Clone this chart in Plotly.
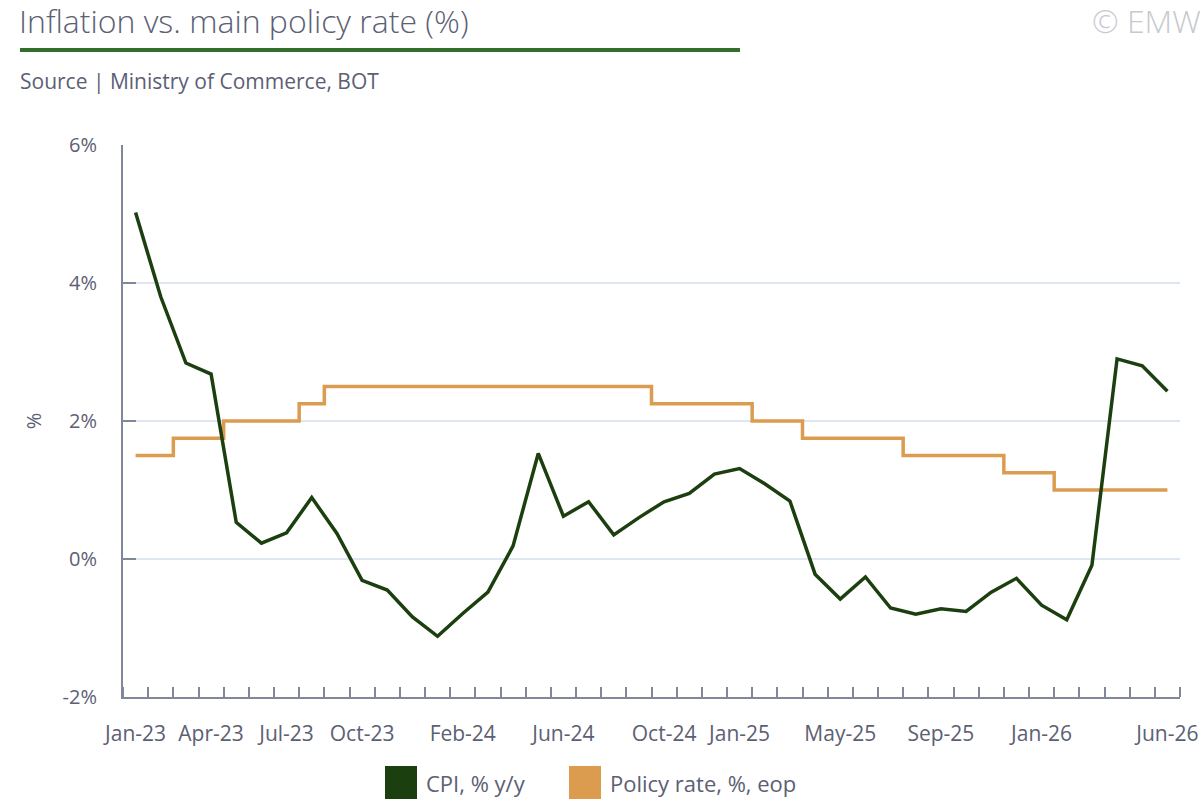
import plotly.graph_objects as go

# data
months = [
    "Jan-23", "Feb-23", "Mar-23", "Apr-23", "May-23", "Jun-23", "Jul-23", "Aug-23", "Sep-23", "Oct-23", "Nov-23", "Dec-23",
    "Jan-24", "Feb-24", "Mar-24", "Apr-24", "May-24", "Jun-24", "Jul-24", "Aug-24", "Sep-24", "Oct-24", "Nov-24", "Dec-24",
    "Jan-25", "Feb-25", "Mar-25", "Apr-25", "May-25", "Jun-25", "Jul-25", "Aug-25", "Sep-25", "Oct-25", "Nov-25", "Dec-25",
    "Jan-26", "Feb-26", "Mar-26", "Apr-26", "May-26", "Jun-26",
]
cpi = [
    5.02, 3.80, 2.84, 2.68, 0.53, 0.23, 0.38, 0.89, 0.37, -0.31, -0.45, -0.84,
    -1.12, -0.79, -0.48, 0.19, 1.53, 0.62, 0.83, 0.35, 0.60, 0.83, 0.95, 1.23,
    1.31, 1.09, 0.84, -0.22, -0.58, -0.26, -0.71, -0.80, -0.72, -0.76, -0.48, -0.28,
    -0.67, -0.88, -0.09, 2.90, 2.80, 2.43,
]
policy = [
    1.50, 1.50, 1.75, 1.75, 2.00, 2.00, 2.00, 2.25, 2.50, 2.50, 2.50, 2.50,
    2.50, 2.50, 2.50, 2.50, 2.50, 2.50, 2.50, 2.50, 2.50, 2.25, 2.25, 2.25,
    2.25, 2.00, 2.00, 1.75, 1.75, 1.75, 1.75, 1.50, 1.50, 1.50, 1.50, 1.25,
    1.25, 1.00, 1.00, 1.00, 1.00, 1.00,
]
tick_labels = ["Jan-23", "Apr-23", "Jul-23", "Oct-23", "Feb-24", "Jun-24",
               "Oct-24", "Jan-25", "May-25", "Sep-25", "Jan-26", "Jun-26"]
y_ticks = [-2, 0, 2, 4, 6]

names = ["CPI, % y/y", "Policy rate, %, eop"]
colors = ["#1c3f10", "#dc9c50"]

FONT = "Open Sans"
TEXT = "#5c6073"
AXIS = "#7f8799"
GRID = "#dde6f1"

W, H = 1200, 800
L, R, T, B = 123, 20, 145, 103
pw, ph = W - L - R, H - T - B


def px(x):
    return (x - L) / pw


def py(y):
    return (H - B - y) / ph


x = list(range(len(months)))

fig = go.Figure()
fig.add_trace(go.Scatter(
    x=x, y=policy, name=names[1], mode="lines",
    line=dict(color=colors[1], width=3.5, shape="hvh"),
    customdata=months, hovertemplate="%{customdata}: %{y:.2f}%<extra></extra>",
    showlegend=False,
))
fig.add_trace(go.Scatter(
    x=x, y=cpi, name=names[0], mode="lines",
    line=dict(color=colors[0], width=3.5),
    customdata=months, hovertemplate="%{customdata}: %{y:.2f}%<extra></extra>",
    showlegend=False,
))

fig.update_xaxes(
    range=[-0.5, len(months) - 0.5],
    tickmode="array",
    tickvals=[months.index(t) for t in tick_labels],
    ticktext=tick_labels,
    ticks="",
    ticklabelstandoff=17,
    minor=dict(ticks="inside", ticklen=10, tickwidth=2, tickcolor=AXIS, tick0=0.5, dtick=1),
    showline=True, linecolor=AXIS, linewidth=2,
    showgrid=False, zeroline=False,
    tickfont=dict(family=FONT, size=21, color=TEXT),
)
fig.update_yaxes(
    range=[-2, 6],
    tickmode="array", tickvals=y_ticks, ticktext=[f"{v}%" for v in y_ticks],
    ticks="inside", ticklen=13, tickwidth=2, tickcolor=AXIS,
    ticklabelstandoff=20,
    showline=True, linecolor=AXIS, linewidth=2,
    showgrid=True, gridcolor=GRID, gridwidth=2, zeroline=False,
    tickfont=dict(family=FONT, size=20, color=TEXT),
    title=dict(text="%", standoff=16, font=dict(family=FONT, size=20, color=TEXT)),
)

shapes = [
    # green rule under the title
    dict(type="line", xref="paper", yref="paper", x0=px(20), x1=px(740), y0=py(50), y1=py(50),
         line=dict(color="#31702c", width=4)),
]
annotations = [
    dict(text="Inflation vs. main policy rate (%)", xref="paper", yref="paper",
         x=px(17), y=py(21), xanchor="left", yanchor="middle", showarrow=False,
         font=dict(family=FONT, size=32, color=TEXT, weight=300)),
    dict(text="Source | Ministry of Commerce, BOT", xref="paper", yref="paper",
         x=px(18), y=py(81), xanchor="left", yanchor="middle", showarrow=False,
         font=dict(family=FONT, size=21, color=TEXT)),
    dict(text="© EMW", xref="paper", yref="paper",
         x=px(1203), y=py(21), xanchor="right", yanchor="middle", showarrow=False,
         font=dict(family=FONT, size=32, color="#c6c9ce", weight=300)),
]

# legend drawn by hand with square swatches
legend_x = [385, 569]
for name, color, lx in zip(names, colors, legend_x):
    shapes.append(dict(type="rect", xref="paper", yref="paper",
                       x0=px(lx), x1=px(lx + 32), y0=py(799), y1=py(766),
                       fillcolor=color, line=dict(width=0)))
    annotations.append(dict(text=name, xref="paper", yref="paper",
                            x=px(lx + 39), y=py(783), xanchor="left", yanchor="middle",
                            showarrow=False, font=dict(family=FONT, size=22, color=TEXT)))

fig.update_layout(
    width=W, height=H,
    margin=dict(l=L, r=R, t=T, b=B, autoexpand=False),
    paper_bgcolor="white", plot_bgcolor="white",
    showlegend=False,
    shapes=shapes,
    annotations=annotations,
    hovermode="x unified",
)

# drop the page's default body margin so the figure sits at the window's corner
fig.write_html("out.html", config={"displayModeBar": False},
               post_script="document.body.style.margin = '0';")
